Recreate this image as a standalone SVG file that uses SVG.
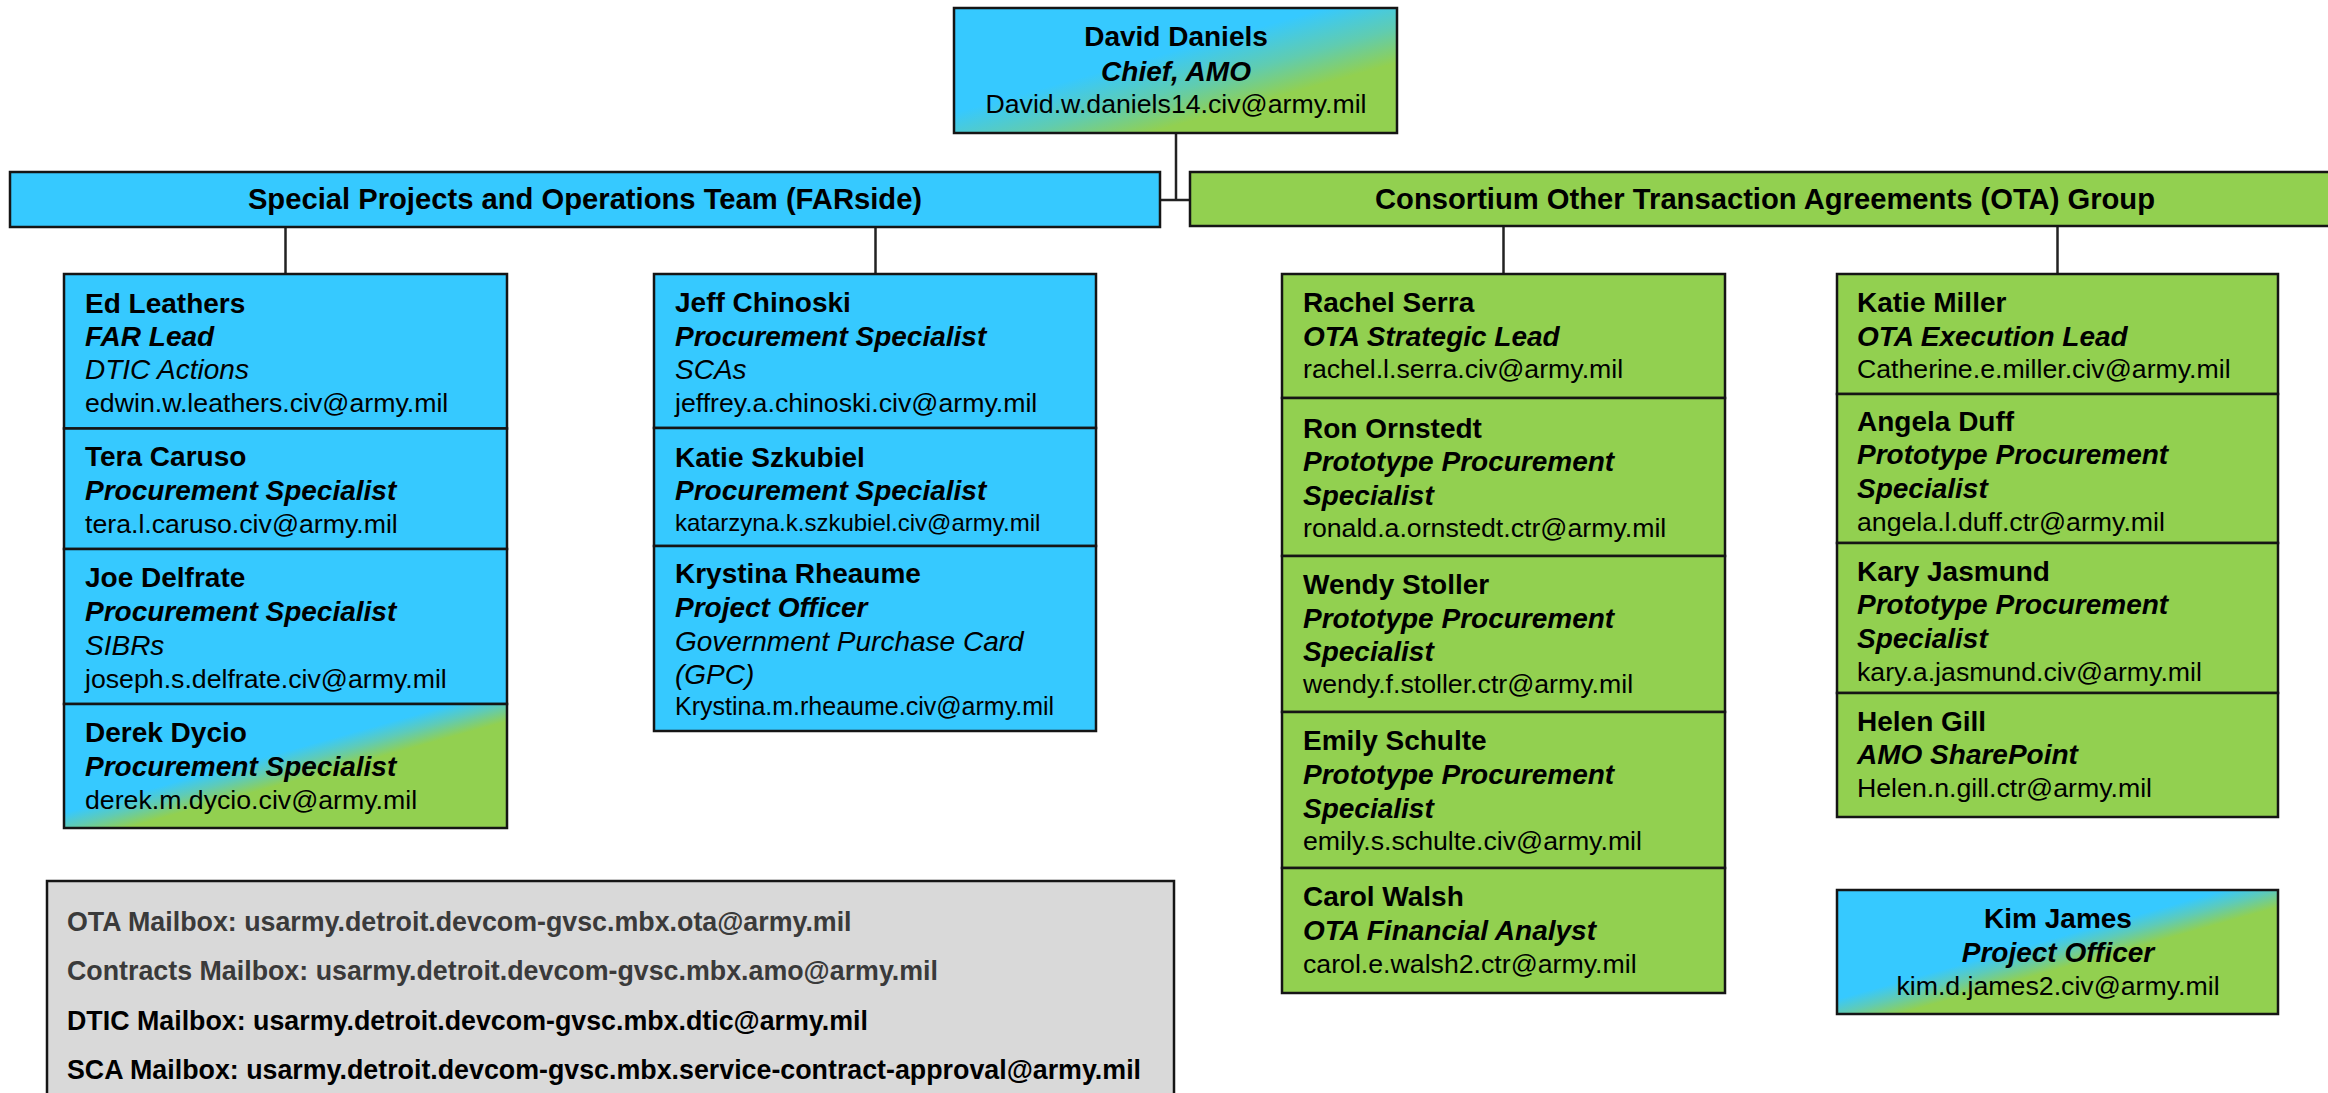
<svg xmlns="http://www.w3.org/2000/svg" width="2328" height="1093" viewBox="0 0 2328 1093">
<defs>
<linearGradient id="gd" x1="0" y1="0" x2="1" y2="1">
<stop offset="0" stop-color="#36C9FF"/><stop offset="0.42" stop-color="#36C9FF"/><stop offset="0.58" stop-color="#60CCB0"/><stop offset="0.72" stop-color="#92D050"/><stop offset="1" stop-color="#92D050"/>
</linearGradient>
<linearGradient id="gs" x1="0" y1="0" x2="1" y2="1">
<stop offset="0" stop-color="#36C9FF"/><stop offset="0.44" stop-color="#36C9FF"/><stop offset="0.5" stop-color="#5ECBB8"/><stop offset="0.57" stop-color="#92D050"/><stop offset="1" stop-color="#92D050"/>
</linearGradient>
<style>
.box{stroke:#151515;stroke-width:2.5}
.b{fill:#36C9FF}
.g{fill:#92D050}
.gd{fill:url(#gd)}
.gs{fill:url(#gs)}
.mb{fill:#D9D9D9}
text{font-family:"Liberation Sans",Arial,sans-serif;fill:#000}
.n{font-size:28px;font-weight:bold}
.r{font-size:28px;font-weight:bold;font-style:italic}
.s{font-size:28px;font-style:italic}
.e{font-size:26.7px}
.bar{font-size:29.2px;font-weight:bold}
.c{text-anchor:middle}
.m{font-size:26.8px;font-weight:bold}
.m1{fill:#3a3a3a}
#connectors path{stroke:#222;stroke-width:2.5;fill:none}
</style>
</defs>
<rect width="2328" height="1093" fill="#fff"/>

<g id="connectors">
<path d="M1176 133 V200 M1160 200 H1190"/>
<path d="M285.5 227 V274"/>
<path d="M875.5 227 V274"/>
<path d="M1503.5 226 V274"/>
<path d="M2057.5 226 V274"/>
</g>

<g id="david-daniels">
<rect class="box gd" x="954" y="8" width="443" height="125"/>
<text class="n c" x="1176" y="46">David Daniels</text>
<text class="r c" x="1176" y="81">Chief, AMO</text>
<text class="e c" x="1176" y="113">David.w.daniels14.civ@army.mil</text>
</g>

<g id="team-farside">
<rect class="box b" x="10" y="172" width="1150" height="55"/>
<text class="bar c" x="585" y="209">Special Projects and Operations Team (FARside)</text>
</g>

<g id="team-ota">
<rect class="box g" x="1190" y="172" width="1140" height="54"/>
<text class="bar c" x="1765" y="209">Consortium Other Transaction Agreements (OTA) Group</text>
</g>

<g id="ed-leathers">
<rect class="box b" x="64" y="274" width="443" height="154.5"/>
<text class="n" x="85" y="312.5">Ed Leathers</text>
<text class="r" x="85" y="346">FAR Lead</text>
<text class="s" x="85" y="379">DTIC Actions</text>
<text class="e" x="85" y="411.5">edwin.w.leathers.civ@army.mil</text>
</g>
<g id="tera-caruso">
<rect class="box b" x="64" y="428.5" width="443" height="120.5"/>
<text class="n" x="85" y="466">Tera Caruso</text>
<text class="r" x="85" y="500">Procurement Specialist</text>
<text class="e" x="85" y="532.5">tera.l.caruso.civ@army.mil</text>
</g>
<g id="joe-delfrate">
<rect class="box b" x="64" y="549" width="443" height="155"/>
<text class="n" x="85" y="586.5">Joe Delfrate</text>
<text class="r" x="85" y="621">Procurement Specialist</text>
<text class="s" x="85" y="654.5">SIBRs</text>
<text class="e" x="85" y="687.5">joseph.s.delfrate.civ@army.mil</text>
</g>
<g id="derek-dycio">
<rect class="box gs" x="64" y="704" width="443" height="124"/>
<text class="n" x="85" y="741.5">Derek Dycio</text>
<text class="r" x="85" y="776">Procurement Specialist</text>
<text class="e" x="85" y="808.5">derek.m.dycio.civ@army.mil</text>
</g>

<g id="jeff-chinoski">
<rect class="box b" x="654" y="274" width="442" height="154"/>
<text class="n" x="675" y="312">Jeff Chinoski</text>
<text class="r" x="675" y="346">Procurement Specialist</text>
<text class="s" x="675" y="379">SCAs</text>
<text class="e" x="675" y="412">jeffrey.a.chinoski.civ@army.mil</text>
</g>
<g id="katie-szkubiel">
<rect class="box b" x="654" y="428" width="442" height="118"/>
<text class="n" x="675" y="467">Katie Szkubiel</text>
<text class="r" x="675" y="500">Procurement Specialist</text>
<text class="e" x="675" y="531" style="font-size:24px">katarzyna.k.szkubiel.civ@army.mil</text>
</g>
<g id="krystina-rheaume">
<rect class="box b" x="654" y="546" width="442" height="185"/>
<text class="n" x="675" y="583">Krystina Rheaume</text>
<text class="r" x="675" y="617">Project Officer</text>
<text class="s" x="675" y="651">Government Purchase Card</text>
<text class="s" x="675" y="683.5">(GPC)</text>
<text class="e" x="675" y="715" style="font-size:25px">Krystina.m.rheaume.civ@army.mil</text>
</g>

<g id="rachel-serra">
<rect class="box g" x="1282" y="274" width="443" height="124"/>
<text class="n" x="1303" y="312">Rachel Serra</text>
<text class="r" x="1303" y="346">OTA Strategic Lead</text>
<text class="e" x="1303" y="378">rachel.l.serra.civ@army.mil</text>
</g>
<g id="ron-ornstedt">
<rect class="box g" x="1282" y="398" width="443" height="158"/>
<text class="n" x="1303" y="438">Ron Ornstedt</text>
<text class="r" x="1303" y="471">Prototype Procurement</text>
<text class="r" x="1303" y="505">Specialist</text>
<text class="e" x="1303" y="537">ronald.a.ornstedt.ctr@army.mil</text>
</g>
<g id="wendy-stoller">
<rect class="box g" x="1282" y="556" width="443" height="156"/>
<text class="n" x="1303" y="594">Wendy Stoller</text>
<text class="r" x="1303" y="628">Prototype Procurement</text>
<text class="r" x="1303" y="661">Specialist</text>
<text class="e" x="1303" y="693">wendy.f.stoller.ctr@army.mil</text>
</g>
<g id="emily-schulte">
<rect class="box g" x="1282" y="712" width="443" height="156"/>
<text class="n" x="1303" y="750">Emily Schulte</text>
<text class="r" x="1303" y="784">Prototype Procurement</text>
<text class="r" x="1303" y="818">Specialist</text>
<text class="e" x="1303" y="850">emily.s.schulte.civ@army.mil</text>
</g>
<g id="carol-walsh">
<rect class="box g" x="1282" y="868" width="443" height="125"/>
<text class="n" x="1303" y="906">Carol Walsh</text>
<text class="r" x="1303" y="940">OTA Financial Analyst</text>
<text class="e" x="1303" y="973">carol.e.walsh2.ctr@army.mil</text>
</g>

<g id="katie-miller">
<rect class="box g" x="1837" y="274" width="441" height="120"/>
<text class="n" x="1857" y="312">Katie Miller</text>
<text class="r" x="1857" y="346">OTA Execution Lead</text>
<text class="e" x="1857" y="378">Catherine.e.miller.civ@army.mil</text>
</g>
<g id="angela-duff">
<rect class="box g" x="1837" y="394" width="441" height="149"/>
<text class="n" x="1857" y="431">Angela Duff</text>
<text class="r" x="1857" y="464">Prototype Procurement</text>
<text class="r" x="1857" y="497.5">Specialist</text>
<text class="e" x="1857" y="531">angela.l.duff.ctr@army.mil</text>
</g>
<g id="kary-jasmund">
<rect class="box g" x="1837" y="543" width="441" height="150"/>
<text class="n" x="1857" y="581">Kary Jasmund</text>
<text class="r" x="1857" y="614">Prototype Procurement</text>
<text class="r" x="1857" y="648">Specialist</text>
<text class="e" x="1857" y="681">kary.a.jasmund.civ@army.mil</text>
</g>
<g id="helen-gill">
<rect class="box g" x="1837" y="693" width="441" height="124"/>
<text class="n" x="1857" y="731">Helen Gill</text>
<text class="r" x="1857" y="764">AMO SharePoint</text>
<text class="e" x="1857" y="797">Helen.n.gill.ctr@army.mil</text>
</g>

<g id="kim-james">
<rect class="box gs" x="1837" y="890" width="441" height="124"/>
<text class="n c" x="2058" y="928">Kim James</text>
<text class="r c" x="2058" y="962">Project Officer</text>
<text class="e c" x="2058" y="995">kim.d.james2.civ@army.mil</text>
</g>

<g id="mailboxes">
<rect class="box mb" x="47" y="881" width="1127" height="230"/>
<text class="m m1" x="67" y="931">OTA Mailbox: usarmy.detroit.devcom-gvsc.mbx.ota@army.mil</text>
<text class="m m1" x="67" y="980">Contracts Mailbox: usarmy.detroit.devcom-gvsc.mbx.amo@army.mil</text>
<text class="m" x="67" y="1030">DTIC Mailbox: usarmy.detroit.devcom-gvsc.mbx.dtic@army.mil</text>
<text class="m" x="67" y="1079">SCA Mailbox: usarmy.detroit.devcom-gvsc.mbx.service-contract-approval@army.mil</text>
</g>
</svg>
